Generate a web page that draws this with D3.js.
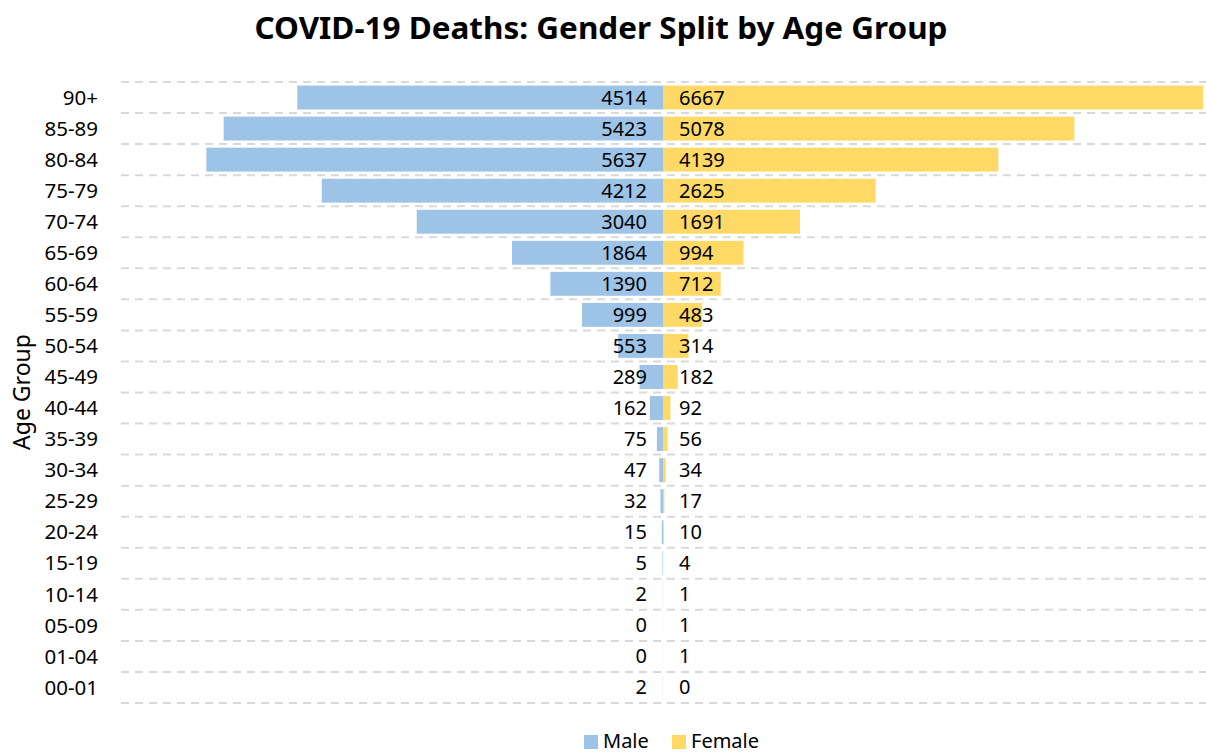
<!DOCTYPE html>
<html>
<head>
<meta charset="utf-8">
<script src="https://cdn.jsdelivr.net/npm/d3@7"></script>
<style>
	body { margin: 0; background: #fff; }
	svg text { font-family: "Noto Sans", "Open Sans", sans-serif; fill: #000; }
</style>
</head>
<body>
<div id="chart"></div>
<script>
// age groups, top row first
var ageGroups = ["90+", "85-89", "80-84", "75-79", "70-74", "65-69", "60-64", "55-59", "50-54",
	"45-49", "40-44", "35-39", "30-34", "25-29", "20-24", "15-19", "10-14", "05-09", "01-04", "00-01"];
var male = [4514, 5423, 5637, 4212, 3040, 1864, 1390, 999, 553, 289, 162, 75, 47, 32, 15, 5, 2, 0, 0, 2];
var female = [6667, 5078, 4139, 2625, 1691, 994, 712, 483, 314, 182, 92, 56, 34, 17, 10, 4, 1, 1, 1, 0];
var seriesNames = ["Male", "Female"];
var seriesColors = ["#9DC3E6", "#FFD966"];

var width = 1206, height = 753;
var plot = {left: 121, right: 1205, top: 82, bottom: 703};

var svg = d3.select("#chart").append("svg")
	.attr("width", width)
	.attr("height", height);

var maxVal = d3.max(male.concat(female)) * 1.0035;
var x = d3.scaleLinear()
	.domain([-maxVal, maxVal])
	.range([plot.left, plot.right]);
var y = d3.scaleBand()
	.domain(ageGroups)
	.range([plot.top, plot.bottom])
	.paddingInner(0.23)
	.paddingOuter(0.115);

var rows = ageGroups.map(function(g, i) {
	return {group: g, male: male[i], female: female[i]};
});

// title
svg.append("text")
	.attr("x", 601)
	.attr("y", 39)
	.attr("text-anchor", "middle")
	.attr("font-size", 30)
	.attr("font-weight", "bold")
	.attr("textLength", 693)
	.attr("lengthAdjust", "spacingAndGlyphs")
	.text("COVID-19 Deaths: Gender Split by Age Group");

// dashed gridlines on the band edges
var step = y.step();
var edges = d3.range(ageGroups.length + 1).map(function(i) { return plot.top + i * step; });
svg.append("g")
	.selectAll("line").data(edges)
	.enter().append("line")
		.attr("x1", plot.left)
		.attr("x2", width)
		.attr("y1", function(d) { return d; })
		.attr("y2", function(d) { return d; })
		.attr("stroke", "#D9D9D9")
		.attr("stroke-width", 2)
		.attr("stroke-dasharray", "8,6");

// bars
var bars = svg.append("g");
bars.selectAll(".male").data(rows)
	.enter().append("rect")
		.attr("class", "male")
		.attr("x", function(d) { return x(-d.male); })
		.attr("width", function(d) { return x(0) - x(-d.male); })
		.attr("y", function(d) { return y(d.group); })
		.attr("height", y.bandwidth())
		.attr("fill", seriesColors[0]);
bars.selectAll(".female").data(rows)
	.enter().append("rect")
		.attr("class", "female")
		.attr("x", x(0))
		.attr("width", function(d) { return x(d.female) - x(0); })
		.attr("y", function(d) { return y(d.group); })
		.attr("height", y.bandwidth())
		.attr("fill", seriesColors[1]);

// value labels
var labels = svg.append("g").attr("font-size", 20);
labels.selectAll(".mlab").data(rows)
	.enter().append("text")
		.attr("x", x(0) - 16)
		.attr("y", function(d) { return y(d.group) + y.bandwidth() / 2 + 7; })
		.attr("text-anchor", "end")
		.text(function(d) { return d.male; });
labels.selectAll(".flab").data(rows)
	.enter().append("text")
		.attr("x", x(0) + 16)
		.attr("y", function(d) { return y(d.group) + y.bandwidth() / 2 + 7; })
		.text(function(d) { return d.female; });

// category axis
var axis = svg.append("g")
	.attr("transform", "translate(" + (plot.left - 23) + ",0)")
	.call(d3.axisLeft(y).tickSize(0).tickPadding(0));
axis.select(".domain").remove();
axis.selectAll("text")
	.attr("font-size", 20.5)
	.attr("font-family", "Noto Sans, sans-serif")
	.attr("dy", "0.35em");

svg.append("text")
	.attr("transform", "translate(30, 392) rotate(-90)")
	.attr("text-anchor", "middle")
	.attr("font-size", 23)
	.text("Age Group");

// legend
var legend = svg.append("g");
var legendX = [584, 672];
seriesNames.forEach(function(name, i) {
	legend.append("rect")
		.attr("x", legendX[i])
		.attr("y", 735)
		.attr("width", 14)
		.attr("height", 14)
		.attr("fill", seriesColors[i]);
	legend.append("text")
		.attr("x", legendX[i] + 19)
		.attr("y", 748)
		.attr("font-size", 20)
		.text(name);
});
</script>
</body>
</html>
